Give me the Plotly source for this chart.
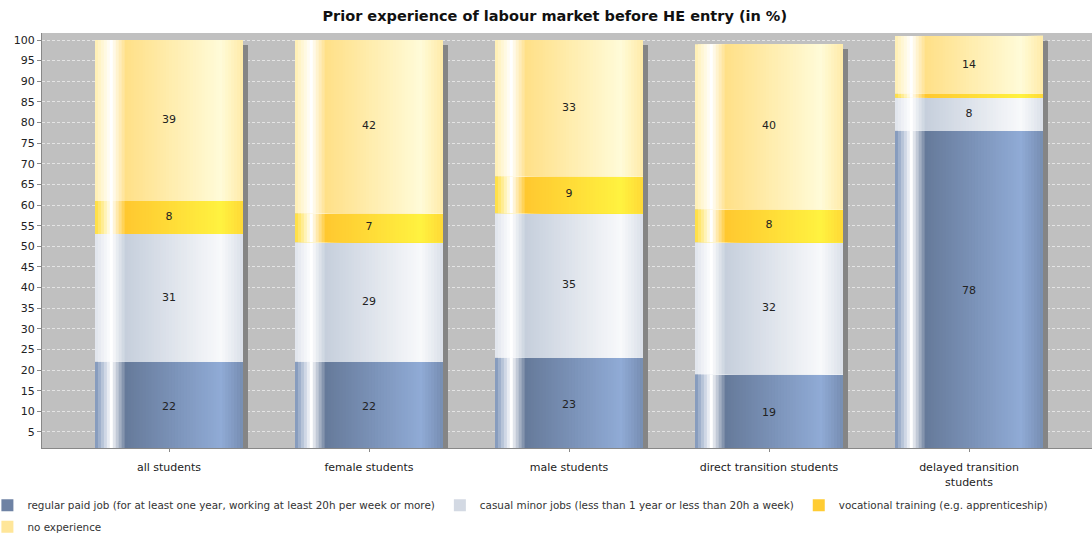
import plotly.graph_objects as go

categories = ["all students", "female students", "male students",
              "direct transition students", "delayed transition<br>students"]
regular_paid_job = [22, 22, 23, 19, 78]
casual_minor_jobs = [31, 29, 35, 32, 8]
vocational_training = [8, 7, 9, 8, 1]
no_experience = [39, 42, 33, 40, 14]

series_names = [
    "regular paid job (for at least one year, working at least 20h per week or more)",
    "casual minor jobs (less than 1 year or less than 20h a week)",
    "vocational training (e.g. apprenticeship)",
    "no experience",
]
series_values = [regular_paid_job, casual_minor_jobs, vocational_training, no_experience]
series_legend = ["legend", "legend", "legend", "legend2"]
# (dark, light, legend swatch)
series_colors = [
    ((0x66, 0x7a, 0x9a), (0x90, 0xab, 0xd6), "#6e82a4"),
    ((0xc6, 0xcf, 0xdc), (0xf8, 0xf9, 0xfb), "#d3d9e3"),
    ((0xff, 0xc8, 0x30), (0xff, 0xf2, 0x40), "#ffcc33"),
    ((0xff, 0xe0, 0x88), (0xff, 0xfb, 0xd8), "#ffe699"),
]

BAR_W = 0.74
N_STRIPS = 50
WHITE = (255, 255, 255)


def mix(a, b, f):
    return tuple(int(round(a[i] + (b[i] - a[i]) * f)) for i in range(3))


def strip_color(dark, light, t):
    # profile: dim edge -> white highlight -> dark -> gradually light -> dim right edge
    if t < 0.11:
        edge = mix(dark, light, 0.5)
        return mix(edge, WHITE, t / 0.11)
    if t < 0.21:
        return mix(WHITE, dark, (t - 0.11) / 0.10)
    if t < 0.85:
        return mix(dark, light, (t - 0.21) / 0.64)
    return mix(light, dark, (t - 0.85) / 0.15 * 0.6)


fig = go.Figure()

totals = [sum(v[i] for v in series_values) for i in range(len(categories))]

# shadow
fig.add_trace(go.Bar(
    x=categories, y=[t - 1.2 for t in totals], base=0,
    offset=-BAR_W / 2 + 0.025, width=BAR_W,
    marker=dict(color="#858585", line=dict(width=0)),
    showlegend=False, hoverinfo="skip"))

bases = [0] * len(categories)
label_x, label_y, label_t = [], [], []
step = BAR_W / N_STRIPS
for s, (name, vals) in enumerate(zip(series_names, series_values)):
    dark, light, swatch = series_colors[s]
    for k in range(N_STRIPS):
        t = (k + 0.5) / N_STRIPS
        c = strip_color(dark, light, t)
        fig.add_trace(go.Bar(
            x=categories, y=vals, base=list(bases),
            offset=-BAR_W / 2 + k * step,
            width=BAR_W - k * step,
            marker=dict(color="rgb(%d,%d,%d)" % c, line=dict(width=0)),
            showlegend=False, hoverinfo="skip"))
    for i, v in enumerate(vals):
        if v >= 3:
            label_x.append(categories[i])
            label_y.append(bases[i] + v / 2)
            label_t.append(str(v))
    bases = [bases[i] + vals[i] for i in range(len(categories))]

fig.add_trace(go.Scatter(
    x=label_x, y=label_y, text=label_t, mode="text",
    textfont=dict(family="DejaVu Sans", size=11, color="#222222"),
    showlegend=False, hoverinfo="skip"))

for s, name in enumerate(series_names):
    fig.add_trace(go.Bar(x=[None], y=[None], name=name, legend=series_legend[s],
                         marker=dict(color=series_colors[s][2], line=dict(width=0))))

legend_style = dict(orientation="h", x=-0.052, xanchor="left", yanchor="top",
                    font=dict(family="DejaVu Sans", size=10.4, color="#333333"),
                    traceorder="normal", itemwidth=30, tracegroupgap=0,
                    bgcolor="rgba(0,0,0,0)")

fig.update_layout(
    width=1092, height=533,
    barmode="overlay",
    paper_bgcolor="white",
    plot_bgcolor="#c0c0c0",
    margin=dict(l=42, r=0, t=33, b=85, autoexpand=False),
    title=dict(text="<b>Prior experience of labour market before HE entry (in %)</b>",
               x=0.508, xanchor="center", y=0.97, yanchor="middle",
               yref="container",
               font=dict(family="DejaVu Sans", size=14.5, color="#111111")),
    font=dict(family="DejaVu Sans", size=11, color="#222222"),
    legend=dict(y=-0.103, **legend_style),
    legend2=dict(y=-0.155, **legend_style),
    showlegend=True,
)
fig.update_xaxes(
    range=[-0.635, 4.615], showgrid=False, automargin=False,
    showline=True, linecolor="#888888", linewidth=1,
    ticks="outside", ticklen=3, tickcolor="#888888",
    ticklabelstandoff=6,
    tickfont=dict(family="DejaVu Sans", size=11, color="#222222"),
)
fig.update_yaxes(
    range=[1.1, 101.7], tickmode="array", automargin=False,
    tickvals=list(range(5, 101, 5)),
    showgrid=True, gridcolor="#e4e4e4", griddash="3px,2px", gridwidth=1,
    showline=True, linecolor="#888888", linewidth=1,
    ticks="outside", ticklen=4, tickcolor="#888888",
    tickfont=dict(family="DejaVu Sans", size=11, color="#222222"),
    zeroline=False,
)

fig.write_html("out.html", config={"displayModeBar": False},
               post_script="document.body.style.margin='0';document.body.style.padding='0';")
